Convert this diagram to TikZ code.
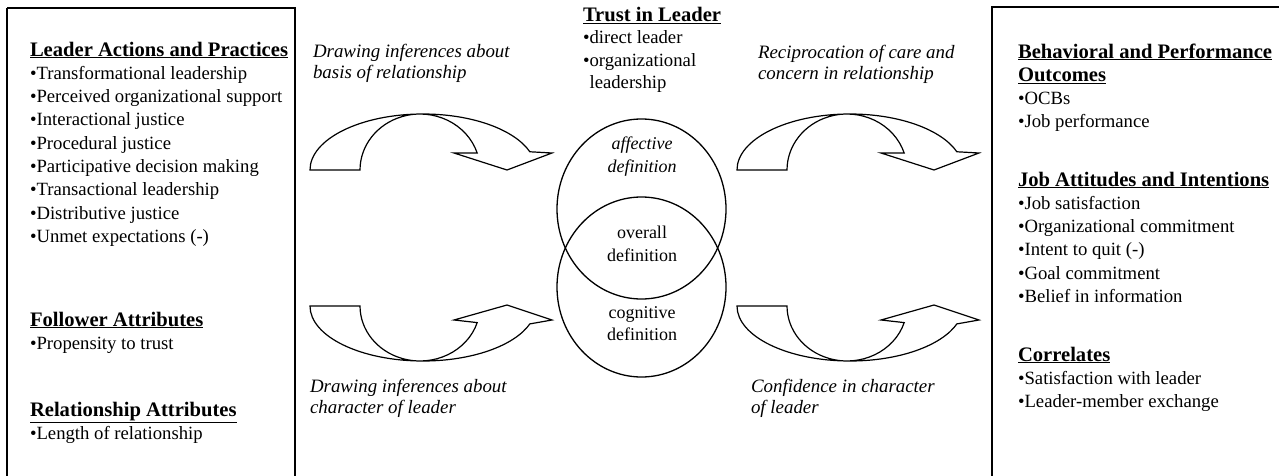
\documentclass[tikz,border=0pt]{standalone}
\usepackage{fontspec}
\setmainfont{Liberation Serif}
\usetikzlibrary{shapes.geometric}
\tikzset{
  txt/.style={inner sep=0pt, outer sep=0pt, anchor=north west, align=left,
              font=\fontsize{18.7}{23.3}\selectfont},
  itl/.style={txt, font=\fontsize{18.9}{21.5}\selectfont\itshape},
  ctr/.style={inner sep=0pt, outer sep=0pt, anchor=north, align=center,
              font=\fontsize{18}{22.5}\selectfont},
  boxline/.style={draw, line width=1.8pt},
  venn/.style={draw, ellipse, line width=1.3pt, minimum width=169pt, minimum height=180pt, inner sep=0pt},
  curvedarrow/.style={draw, line width=1.2pt, line join=miter, fill=white}
}
\newcommand{\hd}[1]{{\fontsize{20.6}{23.3}\selectfont\textbf{\underline{#1}}}}
\begin{document}
\begin{tikzpicture}[x=1pt,y=-1pt]
\useasboundingbox (0,0) rectangle (1279,476);

% outer boxes
\draw[boxline] (7,8) -- (295,8) -- (295,490) (7,490) -- (7,8);
\draw[boxline] (1295,7) -- (992,7) -- (992,490);

% left box text
\node[txt] (lap) at (30,39.7) {\strut\hd{Leader Actions and Practices}\\
•Transformational leadership\\
•Perceived organizational support\\
•Interactional justice\\
•Procedural justice\\
•Participative decision making\\
•Transactional leadership\\
•Distributive justice\\
•Unmet expectations (-)};
\node[txt] (fa) at (30,309.7) {\strut\hd{Follower Attributes}\\
•Propensity to trust};
\node[txt] (ra) at (30,399.7) {\strut\hd{Relationship Attributes}\\
•Length of relationship};

% right box text
\node[txt] (bpo) at (1018,41.7) {\strut\hd{Behavioral and Performance}\\
\hd{Outcomes}\\
•OCBs\\
•Job performance};
\node[txt] (jai) at (1018,169.7) {\strut\hd{Job Attitudes and Intentions}\\
•Job satisfaction\\
•Organizational commitment\\
•Intent to quit (-)\\
•Goal commitment\\
•Belief in information};
\node[txt] (cor) at (1018,344.7) {\strut\hd{Correlates}\\
•Satisfaction with leader\\
•Leader-member exchange};

% trust in leader
\node[txt, font=\fontsize{18.7}{22.5}\selectfont] (til) at (583,5.7) {\strut\hd{Trust in Leader}\\
•direct leader\\
•organizational\\
\phantom{•}leadership};

% italic labels
\node[itl] (l1) at (313,42) {\strut Drawing inferences about\\ basis of relationship};
\node[itl] (l2) at (758,43) {\strut Reciprocation of care and\\ concern in relationship};
\node[itl] (l3) at (310,377) {\strut Drawing inferences about\\ character of leader};
\node[itl] (l4) at (751,377) {\strut Confidence in character\\ of leader};

% curved arrows
\begin{scope}[shift={(423,170)}, yscale=-1]
\path[curvedarrow] (-113,0) arc[start angle=180, end angle=19, x radius=113, y radius=56]
  -- (129,17) -- (84,0) -- (31,17) -- (54.2,16.9)
  arc[start angle=17.6, end angle=180, x radius=60, y radius=56] -- cycle;
\end{scope}
\begin{scope}[shift={(423,306)}]
\path[curvedarrow] (-113,0) arc[start angle=180, end angle=19, x radius=113, y radius=55]
  -- (129,14) -- (84,-1) -- (31,14) -- (54.2,16.6)
  arc[start angle=17.6, end angle=180, x radius=60, y radius=55] -- cycle;
\end{scope}
\begin{scope}[shift={(850,170)}, yscale=-1]
\path[curvedarrow] (-113,0) arc[start angle=180, end angle=19, x radius=113, y radius=56]
  -- (129,17) -- (84,0) -- (31,17) -- (54.2,16.9)
  arc[start angle=17.6, end angle=180, x radius=60, y radius=56] -- cycle;
\end{scope}
\begin{scope}[shift={(850,306)}]
\path[curvedarrow] (-113,0) arc[start angle=180, end angle=19, x radius=113, y radius=55]
  -- (129,14) -- (84,-1) -- (31,14) -- (54.2,16.6)
  arc[start angle=17.6, end angle=180, x radius=60, y radius=55] -- cycle;
\end{scope}

% venn
\node[venn] (aff) at (641.5,209) {};
\node[venn] (cog) at (641.5,287) {};
\node[ctr, font=\fontsize{18}{22.5}\selectfont\itshape] (afft) at (642,137) {affective\\ definition};
\node[ctr] (ovt) at (642,226.5) {overall\\ definition};
\node[ctr] (cogt) at (642,306.5) {cognitive\\ definition};
\end{tikzpicture}
\end{document}
